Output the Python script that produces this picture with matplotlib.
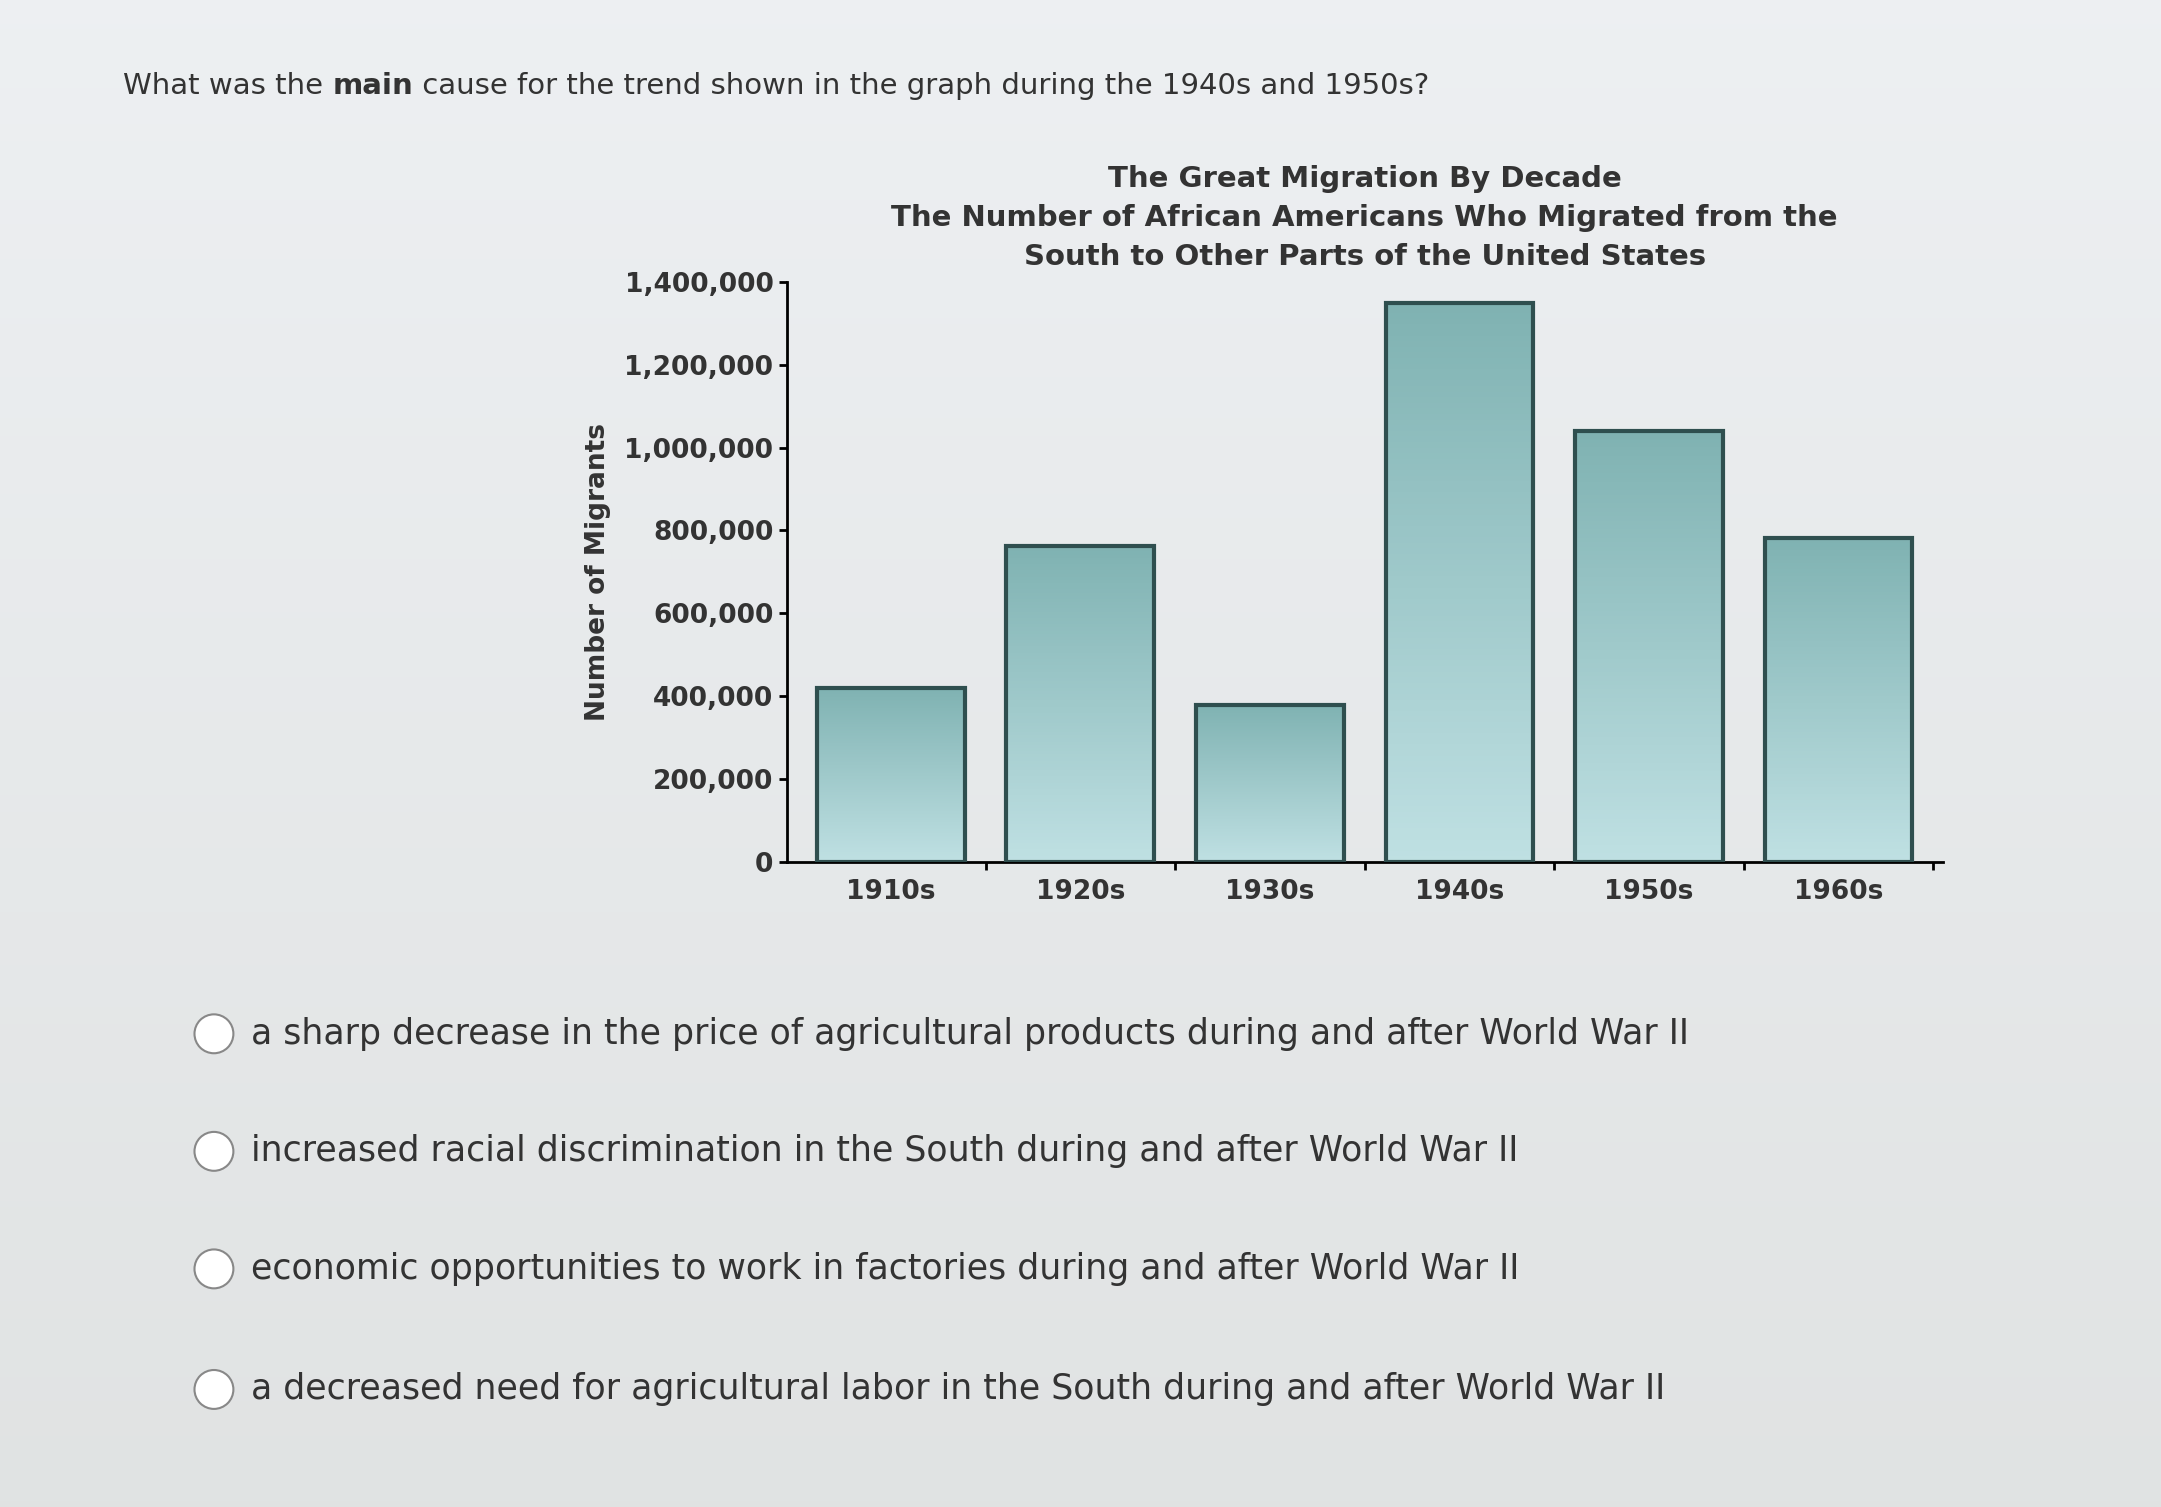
import matplotlib
matplotlib.use("Agg")
import matplotlib.pyplot as plt
import numpy as np
from matplotlib.patches import Ellipse

decades = ["1910s", "1920s", "1930s", "1940s", "1950s", "1960s"]
migrants = [420000, 763000, 380000, 1350000, 1040000, 783000]
yticks = [0, 200000, 400000, 600000, 800000, 1000000, 1200000, 1400000]
question_parts = [("What was the ", "normal"), ("main", "bold"),
                  (" cause for the trend shown in the graph during the 1940s and 1950s?", "normal")]
options = [
    "a sharp decrease in the price of agricultural products during and after World War II",
    "increased racial discrimination in the South during and after World War II",
    "economic opportunities to work in factories during and after World War II",
    "a decreased need for agricultural labor in the South during and after World War II",
]

fig = plt.figure(figsize=(21.61, 15.07), dpi=100)
bg = fig.add_axes([0, 0, 1, 1], zorder=-10)
grad = np.linspace(0, 1, 256).reshape(-1, 1)
bg.imshow(np.dstack([0.93 - 0.05*grad, 0.94 - 0.05*grad, 0.95 - 0.06*grad]), aspect="auto", extent=[0, 1, 0, 1])
bg.axis("off")

renderer = fig.canvas.get_renderer()
xq = 0.057
for txt, w in question_parts:
    t = fig.text(xq, 0.943, txt, fontsize=21, color="#333", va="center", fontweight=w)
    bb = t.get_window_extent(renderer=renderer)
    xq += bb.width / fig.bbox.width

ax = fig.add_axes([0.364, 0.428, 0.535, 0.385])
ax.set_facecolor("none")
x = np.arange(len(decades))
bars = ax.bar(x, migrants, width=0.78, color="none", edgecolor="#2f4f4f", linewidth=3, zorder=3)
g = np.linspace(0, 1, 100).reshape(-1, 1)
cmapimg = np.dstack([0.50 + 0.25*g, 0.70 + 0.18*g, 0.70 + 0.19*g])
for b in bars:
    im = ax.imshow(cmapimg, aspect="auto", zorder=2,
                   extent=[b.get_x(), b.get_x()+b.get_width(), 0, b.get_height()])
    im.set_clip_path(b)
ax.set_xlim(-0.55, 5.55)
ax.set_ylim(0, 1400000)
ax.set_yticks(yticks)
ax.set_yticklabels([f"{v:,}" for v in yticks], fontsize=19, fontweight="bold", color="#333")
ax.set_xticks(x + 0.5)
ax.set_xticklabels([])
ax.set_xticks(x, minor=True)
ax.set_xticklabels(decades, minor=True, fontsize=19, fontweight="bold", color="#333")
ax.tick_params(axis="x", which="minor", length=0, pad=12)
ax.tick_params(axis="x", which="major", length=6, width=2)
ax.tick_params(axis="y", length=6, width=2)
for s in ["top", "right"]:
    ax.spines[s].set_visible(False)
for s in ["left", "bottom"]:
    ax.spines[s].set_linewidth(2)
ax.set_ylabel("Number of Migrants", fontsize=19, fontweight="bold", color="#333", labelpad=10)
ax.set_title("The Great Migration By Decade\nThe Number of African Americans Who Migrated from the\nSouth to Other Parts of the United States",
             fontsize=21, fontweight="bold", color="#333", linespacing=1.5, pad=12, x=0.5)
ax.set_autoscale_on(False)

ys = [0.314, 0.236, 0.158, 0.078]
for y, t in zip(ys, options):
    fig.patches.append(Ellipse((0.099, y), 0.018, 0.018*2161/1507, transform=fig.transFigure,
                               facecolor="white", edgecolor="#888", linewidth=1.5))
    fig.text(0.116, y, t, fontsize=25, color="#333", va="center")

fig.savefig("out.png", dpi=100)
